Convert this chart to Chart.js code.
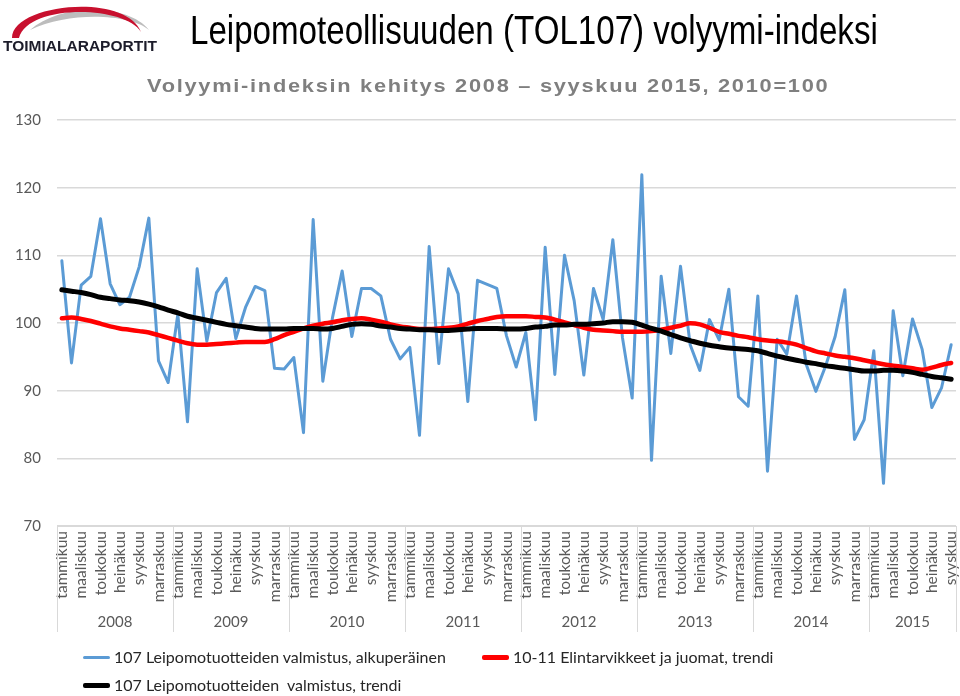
<!DOCTYPE html>
<html>
<head>
<meta charset="utf-8">
<script src="https://cdn.jsdelivr.net/npm/chart.js@4"></script>
<style>
  body { margin: 0; background: #fff; }
  #wrap { position: relative; width: 960px; height: 696px; overflow: hidden; }
  #chart { position: absolute; left: 0; top: 0; }
  .abs { position: absolute; white-space: nowrap; transform-origin: 0 0; }
  #title { left: 190px; top: 8px; font: 40px "Liberation Sans", Arial, sans-serif; color: #000; }
  #subtitle { left: 147px; top: 75px; font: bold 19px "Liberation Sans", Arial, sans-serif; color: #7f7f7f; letter-spacing: 1.5px; }
  .leg { position: absolute; font: 16px Lato, sans-serif; color: #262626; white-space: nowrap; }
  .leg span.line { position: absolute; left: 0; width: 27px; border-radius: 2px; }
  .leg span.txt { position: absolute; left: 31px; top: -10px; }
</style>
</head>
<body>
<div id="wrap">
  <canvas id="chart" width="960" height="696"></canvas>
  <svg class="abs" style="left:0;top:0" width="165" height="56">
    <path d="M30 30 C60 3, 128 3, 149 30 C130 14, 70 11, 30 30 Z" fill="#bdbdbd"/>
    <path d="M12 38 C12 4, 125 -8, 141 32 C124 5, 28 4, 19 38 Z" fill="#c8102e"/>
    <text x="3" y="51" font-family="Liberation Sans, Arial" font-weight="bold" font-size="14" fill="#1c1c2a" textLength="154" lengthAdjust="spacingAndGlyphs">TOIMIALARAPORTIT</text>
  </svg>
  <div id="title" class="abs">Leipomoteollisuuden (TOL107) volyymi-indeksi</div>
  <div id="subtitle" class="abs">Volyymi-indeksin kehitys 2008 – syyskuu 2015, 2010=100</div>
  <div id="legend"></div>
</div>
<script>
const months = ['tammikuu', 'helmikuu', 'maaliskuu', 'huhtikuu', 'toukokuu', 'kesäkuu',
  'heinäkuu', 'elokuu', 'syyskuu', 'lokakuu', 'marraskuu', 'joulukuu'];
const years = ['2008', '2009', '2010', '2011', '2012', '2013', '2014', '2015'];
const monthsInYear = [12, 12, 12, 12, 12, 12, 12, 9];

// 107 Leipomotuotteiden valmistus, alkuperäinen
const original = [
  109.2, 94.1, 105.6, 106.9, 115.4, 105.8, 102.7, 103.8, 108.3, 115.5, 94.4, 91.2,
  101.3, 85.4, 108.0, 97.3, 104.5, 106.6, 97.7, 102.3, 105.4, 104.8, 93.3, 93.2,
  94.9, 83.8, 115.3, 91.4, 100.8, 107.7, 98.0, 105.1, 105.1, 104.0, 97.6, 94.7,
  96.4, 83.4, 111.3, 94.0, 108.0, 104.3, 88.4, 106.3, 105.7, 105.1, 98.1, 93.5,
  98.6, 85.7, 111.2, 92.4, 110.0, 103.3, 92.3, 105.1, 100.5, 112.3, 97.8, 88.9,
  121.9, 79.7, 106.9, 95.5, 108.4, 96.8, 93.0, 100.5, 97.5, 105.0, 89.1, 87.7,
  104.0, 78.1, 97.6, 95.4, 104.0, 93.9, 89.9, 93.6, 98.0, 104.9, 82.8, 85.7,
  95.9, 76.3, 101.8, 92.2, 100.6, 96.1, 87.5, 90.4, 96.8
];
// 10-11 Elintarvikkeet ja juomat, trendi
const foodTrend = [
  100.7, 100.8, 100.6, 100.3, 99.9, 99.5, 99.2, 99.0, 98.8, 98.6, 98.2, 97.8,
  97.4, 97.0, 96.8, 96.8, 96.9, 97.0, 97.1, 97.2, 97.2, 97.2, 97.6, 98.2,
  98.7, 99.2, 99.6, 99.9, 100.1, 100.4, 100.6, 100.7, 100.5, 100.2, 99.8, 99.5,
  99.3, 99.1, 99.1, 99.2, 99.3, 99.5, 99.9, 100.3, 100.6, 100.9, 101.0, 101.0,
  101.0, 100.9, 100.8, 100.5, 100.1, 99.7, 99.3, 99.0, 98.9, 98.8, 98.7, 98.7,
  98.7, 98.8, 99.0, 99.3, 99.6, 99.95, 99.8, 99.3, 98.7, 98.4, 98.1, 97.9,
  97.6, 97.4, 97.3, 97.1, 96.8, 96.3, 95.8, 95.5, 95.2, 95.0, 94.8, 94.5,
  94.2, 93.9, 93.7, 93.5, 93.3, 93.1, 93.4, 93.8, 94.1
];
// 107 Leipomotuotteiden valmistus, trendi
const bakeryTrend = [
  104.9, 104.7, 104.5, 104.2, 103.8, 103.6, 103.4, 103.3, 103.1, 102.8, 102.4, 101.9,
  101.5, 101.0, 100.7, 100.4, 100.1, 99.8, 99.6, 99.4, 99.2, 99.1, 99.1, 99.1,
  99.2, 99.2, 99.2, 99.1, 99.2, 99.5, 99.8, 99.9, 99.8, 99.55, 99.4, 99.2,
  99.1, 99.0, 99.0, 98.9, 98.9, 99.0, 99.1, 99.2, 99.2, 99.2, 99.1, 99.1,
  99.2, 99.4, 99.5, 99.7, 99.7, 99.8, 99.8, 99.9, 100.0, 100.2, 100.2, 100.1,
  99.7, 99.2, 98.8, 98.3, 97.8, 97.4, 97.0, 96.7, 96.5, 96.3, 96.2, 96.1,
  95.9, 95.5, 95.1, 94.8, 94.5, 94.2, 94.0, 93.7, 93.5, 93.3, 93.1, 92.9,
  92.9, 93.0, 93.0, 92.9, 92.7, 92.4, 92.1, 91.9, 91.7
];
const yTicks = [70, 80, 90, 100, 110, 120, 130];

// category labels and year centres built from the arrays above
const labels = [];
const yearCenters = [];
years.forEach((y, yi) => {
  const start = labels.length;
  for (let m = 0; m < monthsInYear[yi]; m++) labels.push(months[m] + ' ' + y);
  yearCenters.push((start + labels.length - 1) / 2);
});

const gridColor = '#d9d9d9';
const tickColor = '#595959';
const tickFont = { family: 'Lato', size: 15 };

const yearSeparators = {
  id: 'yearSeparators',
  afterDraw(chart) {
    const x = chart.scales.x;
    const c = chart.ctx;
    const top = chart.chartArea.bottom;
    const bottom = top + 106;
    const half = (x.getPixelForValue(1) - x.getPixelForValue(0)) / 2;
    c.save();
    c.strokeStyle = gridColor;
    c.lineWidth = 1;
    let idx = 0;
    const edges = [0];
    monthsInYear.forEach(n => { idx += n; edges.push(idx); });
    edges.forEach(e => {
      const px = Math.round(x.getPixelForValue(Math.min(e, labels.length - 1)) + (e >= labels.length ? half : -half)) + 0.5;
      c.beginPath();
      c.moveTo(px, top);
      c.lineTo(px, bottom);
      c.stroke();
    });
    c.restore();
  }
};

const chart = new Chart(document.getElementById('chart'), {
  type: 'line',
  data: {
    labels: labels,
    datasets: [
      { label: '107 Leipomotuotteiden valmistus, alkuperäinen', data: original,
        borderColor: '#5b9bd5', borderWidth: 3, tension: 0, order: 3 },
      { label: '10-11 Elintarvikkeet ja juomat, trendi', data: foodTrend,
        borderColor: '#ff0000', borderWidth: 4.5, tension: 0.4, cubicInterpolationMode: 'monotone', order: 2 },
      { label: '107 Leipomotuotteiden  valmistus, trendi', data: bakeryTrend,
        borderColor: '#000000', borderWidth: 5, tension: 0.4, cubicInterpolationMode: 'monotone', order: 1 }
    ]
  },
  options: {
    responsive: false,
    animation: false,
    events: [],
    elements: { point: { radius: 0 }, line: { borderCapStyle: 'round', borderJoinStyle: 'round' } },
    layout: { padding: { left: 0, top: 120, right: 4, bottom: 60 } },
    plugins: { legend: { display: false }, tooltip: { enabled: false } },
    scales: {
      x: {
        type: 'category',
        offset: true,
        grid: { display: false, drawTicks: false },
        border: { display: true, color: gridColor },
        ticks: {
          autoSkip: false, minRotation: 90, maxRotation: 90, padding: 5,
          color: tickColor, font: { family: 'Lato', size: 15.5 },
          callback: (v, i) => i % 2 === 0 ? months[i % 12] : ''
        },
        afterFit: s => { s.height = 80; s.paddingLeft = 0; s.paddingRight = 0; }
      },
      x2: {
        type: 'linear',
        position: 'bottom',
        min: -0.5,
        max: labels.length - 0.5,
        grid: { display: false, drawTicks: false },
        border: { display: false },
        afterBuildTicks: s => { s.ticks = yearCenters.map(v => ({ value: v })); },
        ticks: {
          autoSkip: false, maxRotation: 0, padding: 7,
          color: tickColor, font: tickFont,
          callback: (v, i) => years[i]
        },
        afterFit: s => { s.height = 30; s.paddingLeft = 0; s.paddingRight = 0; }
      },
      y: {
        min: 70, max: 130,
        afterBuildTicks: s => { s.ticks = yTicks.map(v => ({ value: v })); },
        grid: { color: gridColor, lineWidth: 1.5, drawTicks: false },
        border: { display: false },
        ticks: { padding: 16, color: tickColor, font: tickFont },
        afterFit: s => { s.width = 57; s.paddingTop = 0; s.paddingBottom = 0; }
      }
    }
  },
  plugins: [yearSeparators]
});

// legend rows as in the original chart
const legendPos = [[83, 657, 3], [482, 657, 5], [83, 685, 5]];
const legendEl = document.getElementById('legend');
chart.data.datasets.forEach((ds, i) => {
  const [lx, ly, lw] = legendPos[i];
  const item = document.createElement('div');
  item.className = 'leg';
  item.style.left = lx + 'px';
  item.style.top = ly + 'px';
  item.innerHTML = '<span class="line" style="top:' + (-lw / 2) + 'px;height:' + lw + 'px;background:' + ds.borderColor + '"></span>' +
    '<span class="txt">' + ds.label.replace(/  /g, ' &nbsp;') + '</span>';
  legendEl.appendChild(item);
});

// squeeze the headings to the widths they have in the original
function fitWidth(id, w) {
  const el = document.getElementById(id);
  el.style.transform = 'scaleX(' + (w / el.offsetWidth) + ')';
}
fitWidth('title', 688);
fitWidth('subtitle', 683);
</script>
</body>
</html>
